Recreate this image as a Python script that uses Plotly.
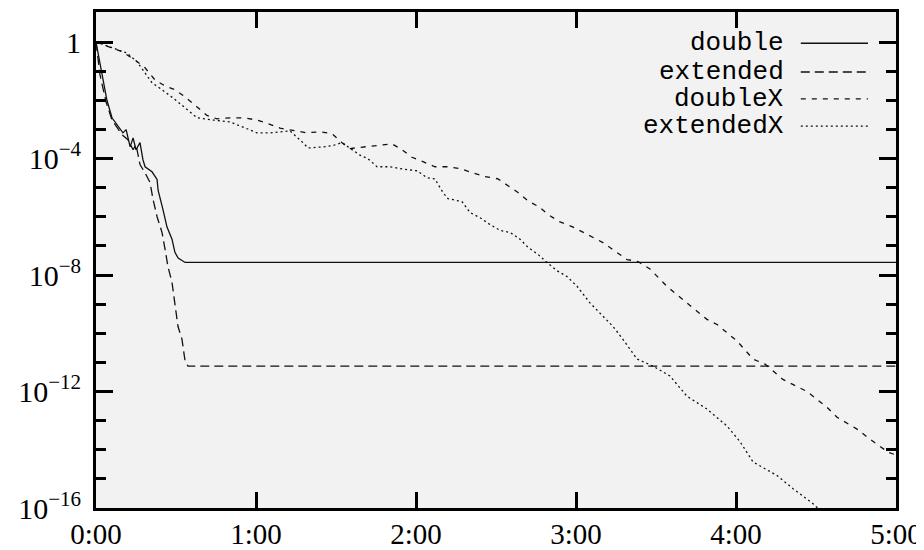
import plotly.graph_objects as go

# time in seconds, residual values
t_double = [0, 1.9, 4.1, 6.0, 10.1, 11.3, 12.8, 13.9, 15.0, 16.5, 17.6, 18.4, 21.0, 22.9, 23.3, 25.1,
            26.6, 28.5, 29.6, 30.8, 33.4, 300]
y_double = [1.0, 1.1e-1, 1.0e-2, 2.5e-3, 7.6e-4, 9.8e-4, 2.5e-4, 5.1e-4, 2.0e-4, 3.5e-4, 9.1e-5, 5.2e-5,
            3.5e-5, 1.9e-5, 8.0e-6, 1.8e-6, 4.5e-7, 1.7e-7, 6.0e-8, 3.8e-8, 2.7e-8, 2.7e-8]

t_extended = [0, 1.5, 3.75, 6.0, 9.75, 12.0, 13.9, 15.0, 16.5, 18.4, 20.25, 21.4, 22.9, 24.75, 25.9,
              27.0, 28.5, 29.6, 30.75, 32.25, 33.4, 34.5, 300]
y_extended = [1.0, 7.4e-2, 8.9e-3, 2.1e-3, 6.6e-4, 4.4e-4, 2.0e-4, 3.0e-4, 6.2e-5, 3.2e-5, 1.5e-5, 3.9e-6,
              1.0e-6, 2.9e-7, 7.6e-8, 1.9e-8, 5.6e-9, 8.3e-10, 1.7e-10, 6.2e-11, 1.1e-11, 7.4e-12, 7.4e-12]

t_doubleX = [0, 10.1, 14.6, 18.4, 22.1, 25.9, 29.6, 33.4, 37.9, 41.6, 45.4, 50.25, 55.1, 60.4, 66.0, 69.0,
             79.1, 84.0, 88.5, 92.25, 95.25, 100.9, 105.75, 111.0, 114.75, 118.5, 122.6, 127.1, 132.0,
             136.5, 141.4, 145.9, 150.75, 154.5, 158.25, 162.0, 166.1, 169.5, 173.6, 178.5, 182.6, 190.1,
             199.1, 203.25, 207.75, 214.1, 221.6, 229.1, 232.9, 240.4, 246.4, 250.9, 257.6, 266.6, 274.1,
             277.9, 285.4, 290.25, 297.0, 300]
y_doubleX = [1.0, 4.5e-1, 2.4e-1, 1.3e-1, 5.0e-2, 3.1e-2, 2.3e-2, 1.3e-2, 5.9e-3, 3.0e-3, 2.3e-3, 2.5e-3,
             2.5e-3, 2.1e-3, 1.4e-3, 1.1e-3, 7.6e-4, 8.3e-4, 7.1e-4, 3.5e-4, 2.2e-4, 2.5e-4, 2.8e-4, 3.2e-4,
             2.0e-4, 1.1e-4, 7.8e-5, 5.2e-5, 5.2e-5, 4.5e-5, 3.2e-5, 2.4e-5, 2.0e-5, 1.2e-5, 6.8e-6, 3.5e-6,
             2.2e-6, 1.2e-6, 6.9e-7, 4.6e-7, 2.9e-7, 1.3e-7, 3.4e-8, 2.9e-8, 1.6e-8, 4.1e-9, 1.1e-9, 3.0e-10,
             2.0e-10, 5.4e-11, 1.3e-11, 8.7e-12, 2.6e-12, 1.0e-12, 2.9e-13, 1.3e-13, 5.1e-14, 2.3e-14,
             8.3e-15, 6.6e-15]

t_extendedX = [0, 5.25, 11.6, 15.4, 18.4, 21.0, 24.75, 28.9, 33.4, 37.9, 43.9, 50.25, 55.1, 60.4, 65.25,
               72.75, 77.6, 79.5, 85.1, 88.9, 92.25, 96.0, 99.0, 102.0, 105.4, 110.25, 115.9, 120.4, 124.1,
               127.1, 130.1, 132.0, 137.25, 140.25, 144.0, 147.75, 151.5, 155.25, 159.0, 162.0, 165.75,
               169.1, 172.9, 176.6, 180.4, 185.25, 193.9, 197.6, 202.9, 208.9, 215.25, 221.6, 229.1, 236.6,
               241.5, 246.4, 255.4, 261.4, 268.9, 279.0]
y_extendedX = [1.0, 6.8e-1, 4.2e-1, 2.1e-1, 8.8e-2, 4.0e-2, 2.3e-2, 1.2e-2, 5.5e-3, 2.5e-3, 2.1e-3, 1.8e-3,
               1.2e-3, 7.6e-4, 7.6e-4, 8.9e-4, 3.5e-4, 2.3e-4, 2.5e-4, 2.8e-4, 3.5e-4, 2.0e-4, 1.3e-4, 9.8e-5,
               5.2e-5, 5.2e-5, 4.2e-5, 3.8e-5, 2.2e-5, 2.0e-5, 6.8e-6, 4.2e-6, 3.3e-6, 1.4e-6, 9.3e-7, 5.4e-7,
               3.4e-7, 2.9e-7, 1.7e-7, 8.9e-8, 5.1e-8, 2.7e-8, 1.4e-8, 8.9e-9, 4.1e-9, 1.1e-9, 1.7e-10,
               6.2e-11, 1.3e-11, 7.4e-12, 3.4e-12, 6.9e-13, 2.5e-13, 6.6e-14, 1.9e-14, 3.8e-15, 1.3e-15,
               4.6e-16, 1.4e-16, 1.9e-17]

series_names = ["double", "extended", "doubleX", "extendedX"]
x_tickvals = [0, 60, 120, 180, 240, 300]
x_ticktext = ["0:00", "1:00", "2:00", "3:00", "4:00", "5:00"]
y_tickvals = [1, 1e-4, 1e-8, 1e-12, 1e-16]
y_ticktext = ["1", "10<sup>\u22124</sup>", "10<sup>\u22128</sup>", "10<sup>\u221212</sup>", "10<sup>\u221216</sup>"]
y_minorvals = [10.0 ** -k for k in range(1, 16) if k % 4 != 0]

dashes = ["solid", "9px,5px", "5px,6px", "2px,3px"]
data = [(t_double, y_double), (t_extended, y_extended), (t_doubleX, y_doubleX), (t_extendedX, y_extendedX)]

fig = go.Figure()
for (tx, ty), name, dash in zip(data, series_names, dashes):
    fig.add_trace(go.Scatter(x=tx, y=ty, mode="lines", name=name,
                             line=dict(color="#111111", width=1.3, dash=dash)))

# legend drawn gnuplot-style: text on the left, sample on the right
leg_y = [0.937, 0.879, 0.825, 0.770]
for name, dash, yy in zip(series_names, dashes, leg_y):
    fig.add_annotation(x=0.861, y=yy, xref="paper", yref="paper", text=name, showarrow=False,
                       xanchor="right", yanchor="middle", height=26, borderpad=0,
                       font=dict(family="Liberation Mono", size=26, color="black"))
    fig.add_shape(type="line", xref="paper", yref="paper", x0=0.881, x1=0.965, y0=yy, y1=yy,
                  line=dict(color="#111111", width=1.3, dash=dash))

# the page body adds an 8px offset, so the figure is sized to fit the window
fig.update_layout(
    width=916, height=542,
    margin=dict(l=88, r=28, t=4, b=42),
    paper_bgcolor="white", plot_bgcolor="#f2f2f2",
    showlegend=False,
    font=dict(family="Liberation Serif", size=30, color="black"),
)
fig.update_xaxes(range=[0, 300], tickvals=x_tickvals, ticktext=x_ticktext, automargin=False,
                 tickfont=dict(family="Liberation Serif", size=29, color="black"),
                 showgrid=False, zeroline=False, showline=True, linewidth=3, linecolor="black",
                 mirror="allticks", ticks="inside", ticklen=16, tickwidth=3, tickcolor="black",
                 ticklabelstandoff=-2)
fig.update_yaxes(type="log", range=[-16, 1.03], tickvals=y_tickvals, ticktext=y_ticktext, automargin=False,
                 tickfont=dict(family="Liberation Serif", size=30, color="black"),
                 showgrid=False, zeroline=False, showline=True, linewidth=3, linecolor="black",
                 mirror="allticks", ticks="inside", ticklen=17, tickwidth=3, tickcolor="black",
                 ticklabelstandoff=6,
                 minor=dict(tickvals=y_minorvals, ticks="inside", ticklen=10, tickwidth=2.5,
                            tickcolor="black", showgrid=False))

fig.write_html("out.html")
